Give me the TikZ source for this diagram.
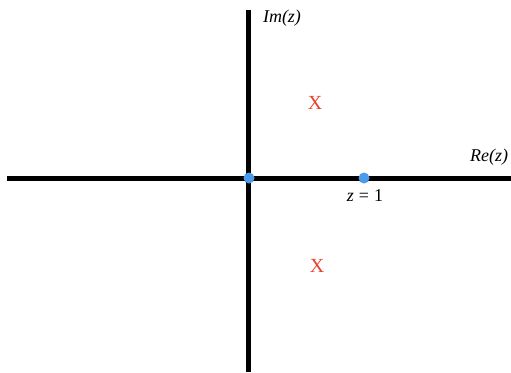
\documentclass[tikz,border=0pt]{standalone}
\usepackage{fontspec}
\setmainfont{Liberation Serif}
\begin{document}
\begin{tikzpicture}[x=1pt,y=-1pt,
  axis/.style={line width=5pt,black},
  dot/.style={circle,fill=dotblue,inner sep=0pt,minimum size=11pt},
  pole/.style={text=polered,font=\fontsize{20}{20}\selectfont,inner sep=0pt},
  lab/.style={font=\fontsize{18}{18}\selectfont\itshape,inner sep=0pt}]
\definecolor{dotblue}{HTML}{4A9BEA}
\definecolor{polered}{HTML}{E8432E}
\useasboundingbox (0,0) rectangle (511,372);
\coordinate (xl) at (7,178);
\coordinate (xr) at (511,178);
\coordinate (yt) at (248,10);
\coordinate (yb) at (248,372);
\draw[axis] (xl) -- (xr);
\draw[axis] (yt) -- (yb);
\node[dot] (o) at (249,178) {};
\node[dot] (one) at (364,178) {};
\node[lab] (im) at (282,18) {Im(z)};
\node[lab] (re) at (489,157) {Re(z)};
\node[font=\fontsize{18}{18}\selectfont,inner sep=0pt] (zl) at (365,196) {\textit{z}\hspace{5pt}=\hspace{5pt}1};
\node[pole] (p1) at (315,103) {X};
\node[pole] (p2) at (317,266) {X};
\end{tikzpicture}
\end{document}
